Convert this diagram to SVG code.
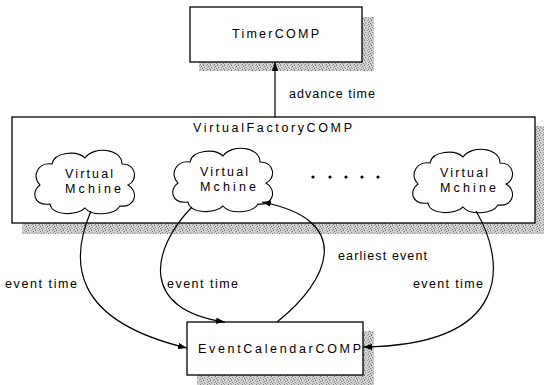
<svg xmlns="http://www.w3.org/2000/svg" width="547" height="385" viewBox="0 0 547 385">
  <defs>
    <!-- stippled drop-shadow fill -->
    <pattern id="halftone" width="7" height="5" patternUnits="userSpaceOnUse">
      <rect width="7" height="5" fill="#d2d2d2"/>
      <rect x="0" y="0" width="1" height="1" fill="#707070"/>
      <rect x="3" y="0" width="1" height="1" fill="#9c9c9c"/>
      <rect x="5" y="1" width="1" height="1" fill="#6c6c6c"/>
      <rect x="1" y="2" width="1" height="1" fill="#8a8a8a"/>
      <rect x="4" y="2" width="1" height="1" fill="#a4a4a4"/>
      <rect x="6" y="3" width="1" height="1" fill="#7a7a7a"/>
      <rect x="2" y="3" width="1" height="1" fill="#b0b0b0"/>
      <rect x="0" y="4" width="1" height="1" fill="#a0a0a0"/>
      <rect x="4" y="4" width="1" height="1" fill="#808080"/>
    </pattern>
    <marker id="arrow" viewBox="0 0 10 7" refX="10" refY="3.5" markerWidth="9" markerHeight="6.5" markerUnits="userSpaceOnUse" orient="auto">
      <path d="M0,0 L10,3.5 L0,7 z" fill="#000"/>
    </marker>
    <!-- cloud outline, centred on the origin -->
    <path id="cloud" d="M -45 4 C -54 -6, -46 -19, -33 -17 C -31 -29, -8 -31, 0 -23 C 8 -35, 37 -33, 37 -17 C 52 -17, 53 0, 43 4 C 54 10, 51 27, 35 25 C 29 35, 6 35, 0 27 C -8 35, -33 35, -35 23 C -52 25, -54 10, -45 4 Z"/>
  </defs>
  <style>
    .box { fill: #fff; stroke: #000; stroke-width: 1.3; }
    .shadow { fill: url(#halftone); }
    .cloud { fill: #fff; stroke: #000; stroke-width: 1.1; }
    .lbl { font-family: "Liberation Sans", Arial, sans-serif; font-size: 12.5px; fill: #000; }
    .edge { fill: none; stroke: #000; stroke-width: 1.2; marker-end: url(#arrow); }
  </style>

  <rect width="547" height="385" fill="#fff"/>

  <!-- TimerCOMP -->
  <g id="timer">
    <rect class="shadow" x="199" y="17" width="175" height="54"/>
    <rect class="box" x="190" y="7" width="172" height="55"/>
    <text class="lbl" x="232" y="38" textLength="87" lengthAdjust="spacing">TimerCOMP</text>
  </g>

  <!-- VirtualFactoryCOMP container -->
  <g id="factory">
    <rect class="shadow" x="22" y="126" width="522" height="108"/>
    <rect class="box" x="12" y="117" width="523" height="106"/>
    <text class="lbl" x="193" y="132" textLength="159" lengthAdjust="spacing">VirtualFactoryCOMP</text>
  </g>

  <g id="vm1">
    <use href="#cloud" class="cloud" transform="translate(85,181)"/>
    <text class="lbl" x="65" y="178" textLength="48" lengthAdjust="spacing">Virtual</text>
    <text class="lbl" x="65" y="193" textLength="56" lengthAdjust="spacing">Mchine</text>
  </g>
  <g id="vm2">
    <use href="#cloud" class="cloud" transform="translate(223,179)"/>
    <text class="lbl" x="200" y="176" textLength="48" lengthAdjust="spacing">Virtual</text>
    <text class="lbl" x="200" y="191" textLength="56" lengthAdjust="spacing">Mchine</text>
  </g>
  <g id="vm3">
    <use href="#cloud" class="cloud" transform="translate(463,180)"/>
    <text class="lbl" x="440" y="177" textLength="48" lengthAdjust="spacing">Virtual</text>
    <text class="lbl" x="440" y="192" textLength="56" lengthAdjust="spacing">Mchine</text>
  </g>

  <g id="ellipsis" fill="#000">
    <circle cx="313" cy="177" r="1.6"/>
    <circle cx="330" cy="177" r="1.6"/>
    <circle cx="346" cy="177" r="1.6"/>
    <circle cx="362" cy="177" r="1.6"/>
    <circle cx="378" cy="177" r="1.6"/>
  </g>

  <!-- EventCalendarCOMP -->
  <g id="calendar">
    <rect class="shadow" x="197" y="331" width="177" height="54"/>
    <rect class="box" x="187" y="322" width="176" height="53"/>
    <text class="lbl" x="198" y="353" textLength="163" lengthAdjust="spacing">EventCalendarCOMP</text>
  </g>

  <!-- connectors -->
  <g id="connectors">
    <path class="edge" d="M 275 117 L 275 62"/>
    <path class="edge" d="M 91 211 C 70 260, 70 320, 187 348"/>
    <path class="edge" d="M 192 207 C 150 250, 140 310, 225 322"/>
    <path class="edge" d="M 277 322 C 330 280, 355 220, 262 202"/>
    <path class="edge" d="M 476 211 C 505 260, 515 345, 363 347"/>
  </g>

  <g id="edge-labels">
    <text class="lbl" x="289" y="98" textLength="86" lengthAdjust="spacing">advance time</text>
    <text class="lbl" x="5" y="288" textLength="72" lengthAdjust="spacing">event time</text>
    <text class="lbl" x="167" y="288" textLength="71" lengthAdjust="spacing">event time</text>
    <text class="lbl" x="338" y="260" textLength="89" lengthAdjust="spacing">earliest event</text>
    <text class="lbl" x="413" y="288" textLength="70" lengthAdjust="spacing">event time</text>
  </g>
</svg>
